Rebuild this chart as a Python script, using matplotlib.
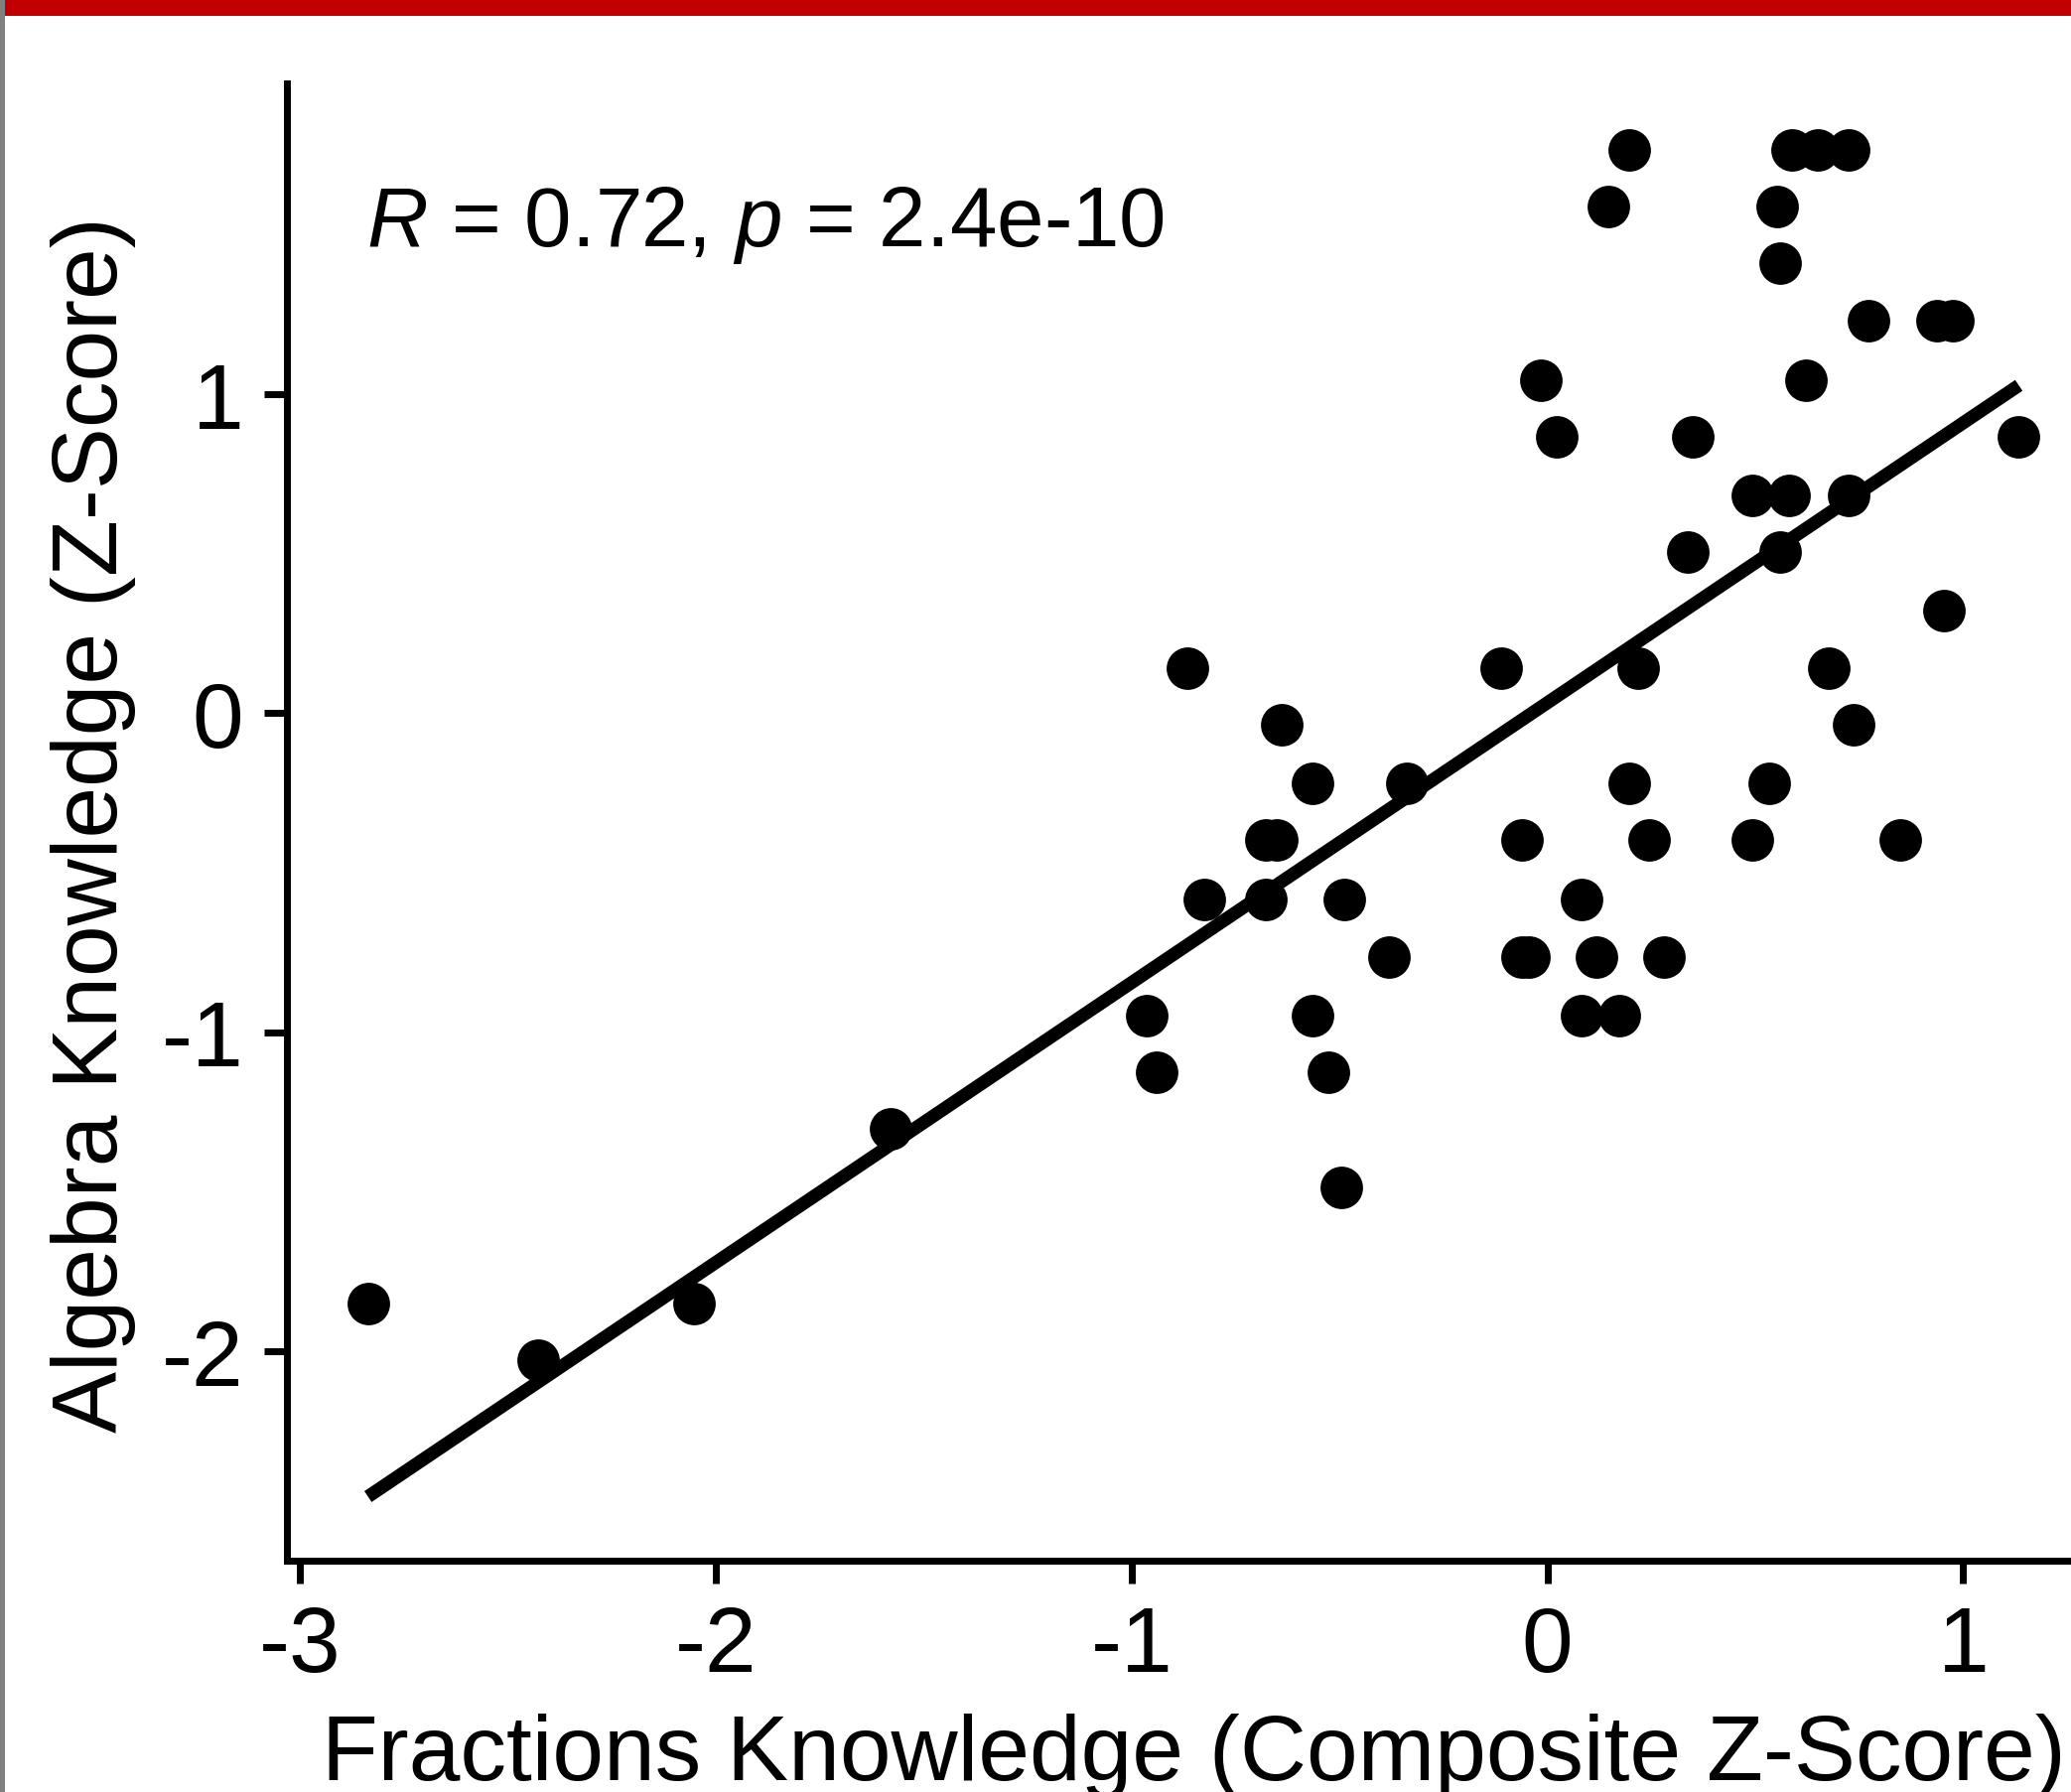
import numpy as np
import matplotlib
matplotlib.use("Agg")
import matplotlib.pyplot as plt
from matplotlib.patches import Rectangle

# ---- data ----
fractions_z = [-2.837, -2.427, -2.052, -1.579, -0.963, -0.940, -0.867, -0.826,
               -0.677, -0.677, -0.652, -0.639, -0.566, -0.566, -0.527, -0.496,
               -0.489, -0.381, -0.337, -0.111, -0.060, -0.062, -0.045, -0.016,
               0.022, 0.083, 0.083, 0.118, 0.172, 0.146, 0.197, 0.197, 0.219,
               0.245, 0.280, 0.337, 0.349, 0.492, 0.492, 0.534, 0.553, 0.559,
               0.559, 0.581, 0.588, 0.651, 0.724, 0.623, 0.677, 0.737, 0.724,
               0.772, 0.848, 0.953, 0.937, 0.975, 1.134]
algebra_z = [-1.849, -2.027, -1.849, -1.303, -0.947, -1.125, 0.141, -0.583,
             -0.583, -0.397, -0.397, -0.037, -0.219, -0.947, -1.125, -1.485,
             -0.583, -0.765, -0.219, 0.141, -0.397, -0.765, -0.765, 1.043,
             0.865, -0.583, -0.947, -0.765, -0.947, 1.589, 1.767, -0.219, 0.141,
             -0.397, -0.765, 0.505, 0.865, -0.397, 0.683, -0.219, 1.589, 1.411,
             0.505, 0.683, 1.767, 1.767, 1.767, 1.043, 0.141, -0.037, 0.683,
             1.229, -0.397, 0.323, 1.229, 1.229, 0.865]
x_ticks = [-3, -2, -1, 0, 1]
x_tick_labels = ["-3", "-2", "-1", "0", "1"]
y_ticks = [-2, -1, 0, 1]
y_tick_labels = ["-2", "-1", "0", "1"]
x_label = "Fractions Knowledge (Composite Z-Score)"
y_label = "Algebra Knowledge (Z-Score)"
stat_label = r"$R$ = 0.72, $p$ = 2.4e-10"

# ---- style ----
plt.rcParams["font.family"] = ["Liberation Sans", "DejaVu Sans"]
plt.rcParams["mathtext.fontset"] = "custom"
plt.rcParams["mathtext.rm"] = "Liberation Sans"
plt.rcParams["mathtext.it"] = "Liberation Sans:italic"
plt.rcParams["axes.unicode_minus"] = False

W, H = 2086, 1806
fig = plt.figure(figsize=(W / 100, H / 100), dpi=100)
fig.patch.set_facecolor("white")

ax_left, ax_right, ax_top, ax_bottom = 289, 2086, 85, 1573
ax = fig.add_axes([ax_left / W, 1 - ax_bottom / H,
                   (ax_right - ax_left) / W, (ax_bottom - ax_top) / H])

x = np.array(fractions_z)
y = np.array(algebra_z)

ax.scatter(x, y, s=950, c="black", linewidths=0, zorder=3, clip_on=False)
slope, intercept = np.polyfit(x, y, 1)
xs = np.array([x.min(), x.max()])
ax.plot(xs, slope * xs + intercept, color="black", lw=9.5,
        solid_capstyle="butt", zorder=4)

ax.set_xlim(-3.032, 1.2595)
ax.set_ylim(-2.6556, 1.974)
ax.set_xticks(x_ticks)
ax.set_xticklabels(x_tick_labels)
ax.set_yticks(y_ticks)
ax.set_yticklabels(y_tick_labels)

for s in ["top", "right"]:
    ax.spines[s].set_visible(False)
for s in ["left", "bottom"]:
    ax.spines[s].set_linewidth(5)
    ax.spines[s].set_color("black")

ax.tick_params(axis="both", direction="out", length=16.5, width=5,
               colors="black", labelsize=67, pad=15)

ax.set_xlabel(x_label, fontsize=67)
ax.xaxis.label.set_verticalalignment("baseline")
ax.xaxis.set_label_coords((1202.5 - ax_left) / (ax_right - ax_left),
                          -(1793 - ax_bottom) / (ax_bottom - ax_top))
ax.set_ylabel(y_label, fontsize=67)
ax.yaxis.label.set_verticalalignment("baseline")
ax.yaxis.set_label_coords(-(ax_left - 118) / (ax_right - ax_left), 0.499)

ax.text(-2.84, 1.467, stat_label, fontsize=61.5, ha="left", va="baseline")

# frame decorations of the source image
fig.add_artist(Rectangle((4.5 / W, 1 - 17 / H), 1, 17 / H,
                         transform=fig.transFigure, color="#C00000",
                         lw=0, zorder=10))
fig.add_artist(Rectangle((0, 0), 4.5 / W, 1, transform=fig.transFigure,
                         color="#808080", lw=0, zorder=10))

fig.savefig("out.png", dpi=100, facecolor="white")
